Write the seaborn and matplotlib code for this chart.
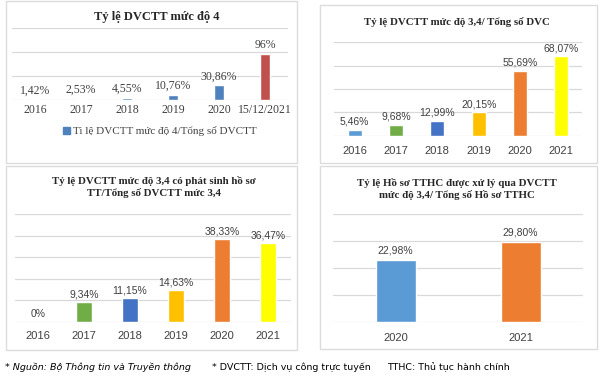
import matplotlib
matplotlib.use("Agg")
import matplotlib.pyplot as plt
import seaborn as sns
from matplotlib.patches import Rectangle, Patch

# data
years_l4 = ["2016", "2017", "2018", "2019", "2020", "15/12/2021"]
rate_l4 = [1.42, 2.53, 4.55, 10.76, 30.86, 96]
labels_l4 = ["1,42%", "2,53%", "4,55%", "10,76%", "30,86%", "96%"]

years_l34 = ["2016", "2017", "2018", "2019", "2020", "2021"]
rate_l34 = [5.46, 9.68, 12.99, 20.15, 55.69, 68.07]
labels_l34 = ["5,46%", "9,68%", "12,99%", "20,15%", "55,69%", "68,07%"]

years_hs = ["2016", "2017", "2018", "2019", "2020", "2021"]
rate_hs = [0, 9.34, 11.15, 14.63, 38.33, 36.47]
labels_hs = ["0%", "9,34%", "11,15%", "14,63%", "38,33%", "36,47%"]

years_tthc = ["2020", "2021"]
rate_tthc = [22.98, 29.80]
labels_tthc = ["22,98%", "29,80%"]

office = ["#5B9BD5", "#70AD47", "#4472C4", "#FFC000", "#ED7D31", "#FFFF00"]
l4_colors = ["#4F81BD"] * 5 + ["#C0504D"]

sns.set_theme(style="white")
plt.rcParams["font.family"] = ["Liberation Sans", "DejaVu Sans"]

W, H = 604, 382
fig = plt.figure(figsize=(W / 100, H / 100), dpi=100)
fig.patch.set_facecolor("white")


def px(l, t, r, b):
    return [l / W, 1 - b / H, (r - l) / W, (b - t) / H]


# panel frames
for l, t, r, b in [(6, 1, 297, 163), (320, 5, 597, 163), (6, 166, 297, 350), (320, 166, 597, 349)]:
    fig.patches.append(Rectangle((l / W, 1 - b / H), (r - l) / W, (b - t) / H,
                                 transform=fig.transFigure, fill=False,
                                 edgecolor="#DCDCDC", linewidth=1.0))


def panel(rect, cats, vals, texts, colors, ymax, step, width, font, fs, tfs, lab_off, tick_pad, color="#404040"):
    ax = fig.add_axes(px(*rect))
    sns.barplot(x=cats, y=vals, hue=cats, order=cats, hue_order=cats, palette=colors,
                legend=False, width=width, saturation=1, ax=ax, zorder=3)
    ax.set_xlim(-0.5, len(cats) - 0.5)
    ax.set_ylim(0, ymax)
    ax.set_yticks(range(0, ymax + 1, step))
    ax.yaxis.grid(True, color="#D9D9D9", linewidth=0.9, zorder=0)
    ax.set_axisbelow(True)
    ax.set_yticklabels([])
    ax.tick_params(left=False, bottom=False, length=0, pad=tick_pad)
    for s in ax.spines.values():
        s.set_visible(False)
    ax.set_facecolor("none")
    for lbl in ax.get_xticklabels():
        lbl.set_fontfamily(font)
        lbl.set_fontsize(tfs)
        lbl.set_color(color)
    for i, (v, t) in enumerate(zip(vals, texts)):
        ax.annotate(t, (i, v), xytext=(0, lab_off), textcoords="offset points",
                    ha="center", va="bottom", fontsize=fs, family=font, color=color)
    ax.set_xlabel("")
    ax.set_ylabel("")
    return ax


serif = ["Liberation Serif", "DejaVu Serif"]
sans = ["Liberation Sans", "DejaVu Sans"]

ax1 = panel((12, 28, 288, 100), years_l4, rate_l4, labels_l4, l4_colors, 150, 50, 0.22,
            serif, 8.5, 8.5, 2, 3)
ax1.legend(handles=[Patch(color="#4F81BD", label="Ti lệ DVCTT mức độ 4/Tổng số DVCTT")],
           loc="center", bbox_to_anchor=(160 / W, 1 - 131 / H), bbox_transform=fig.transFigure,
           frameon=False, handlelength=0.6, handleheight=0.6, handletextpad=0.3,
           prop={"family": serif, "size": 8}, labelcolor="#404040")

panel((334, 42, 582, 136), years_l34, rate_l34, labels_l34, office, 80, 20, 0.34,
      sans, 7.5, 8, 2, 7)
panel((15, 214, 291, 322), years_hs, rate_hs, labels_hs, office, 50, 10, 0.33,
      sans, 7.5, 8, 2, 6.5)
panel((333, 214, 583, 322), years_tthc, rate_tthc, labels_tthc, ["#5B9BD5", "#ED7D31"], 40, 10, 0.32,
      sans, 7.5, 8, 3, 8)

# titles
tkw = dict(ha="center", va="center", family=serif, fontweight="bold", fontsize=7.8, color="#262626")
fig.text(157 / W, 1 - 17 / H, "Tỷ lệ DVCTT mức độ 4", **{**tkw, "fontsize": 9})
fig.text(457 / W, 1 - 22 / H, "Tỷ lệ DVCTT mức độ 3,4/ Tổng số DVC", **tkw)
fig.text(154 / W, 1 - 187 / H, "Tỷ lệ DVCTT mức độ 3,4 có phát sinh hồ sơ\nTT/Tổng số DVCTT mức 3,4",
         linespacing=1.2, **tkw)
fig.text(457 / W, 1 - 189 / H, "Tỷ lệ Hồ sơ TTHC được xử lý qua DVCTT\nmức độ 3,4/ Tổng số Hồ sơ TTHC",
         linespacing=1.2, **tkw)

# footer
fkw = dict(va="center", family=["DejaVu Sans"], fontsize=6.8, color="black")
fig.text(5 / W, 1 - 367 / H, "* Nguồn: Bộ Thông tin và Truyền thông", style="italic", **fkw)
fig.text(212 / W, 1 - 367 / H, "* DVCTT: Dịch vụ công trực tuyến", **fkw)
fig.text(387 / W, 1 - 367 / H, "TTHC: Thủ tục hành chính", **fkw)

fig.savefig("out.png", dpi=100)
